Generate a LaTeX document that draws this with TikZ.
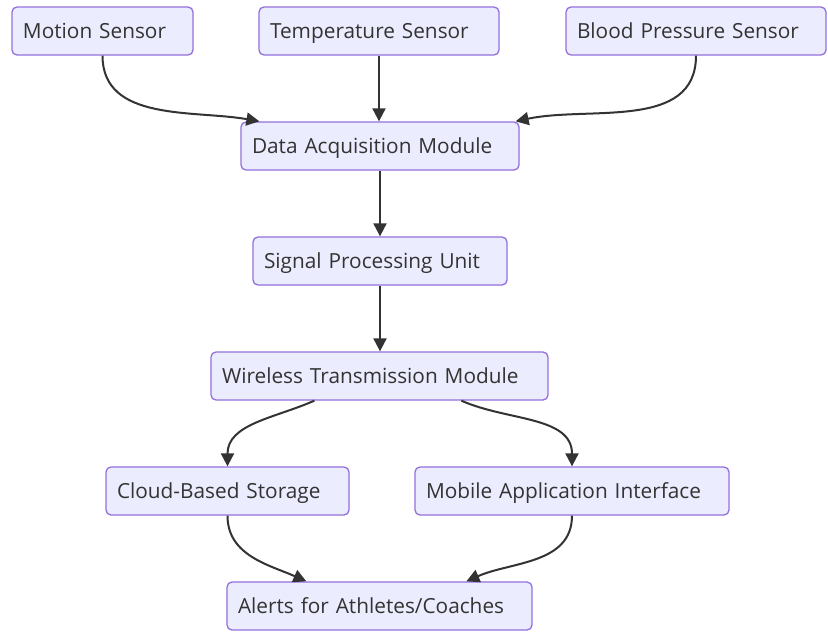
\documentclass[tikz,border=0pt]{standalone}
\usepackage{fontspec}
\setmainfont{Open Sans}
\usetikzlibrary{arrows.meta,calc}
\definecolor{boxfill}{HTML}{ECECFF}
\definecolor{boxline}{HTML}{9370DB}
\definecolor{ink}{HTML}{333333}
\tikzset{
  box/.style={draw=boxline, fill=boxfill, rounded corners=5pt, line width=1.3pt,
    minimum height=48pt, inner xsep=11pt, inner ysep=0pt,
    text height=15pt, text depth=0pt, align=left, text=ink,
    font=\fontsize{20.8}{24}\selectfont, text width=#1-22pt},
  link/.style={draw=ink, line width=2pt, -{Triangle[length=13pt,width=13pt]}}
}
\begin{document}
\begin{tikzpicture}[x=1pt,y=1pt]
  \fill[white] (0,0) rectangle (828,-632);
  \useasboundingbox (0,0) rectangle (828,-632);

  % sensors
  \node[box=181pt] (ms) at (102.5,-31) {Motion Sensor};
  \node[box=240pt] (ts) at (379,-31) {Temperature Sensor};
  \node[box=260pt] (bp) at (696,-31) {Blood Pressure Sensor};

  % processing chain
  \node[box=278pt] (daq) at (380,-146) {Data Acquisition Module};
  \node[box=254pt] (spu) at (380,-261) {Signal Processing Unit};
  \node[box=337pt] (wtm) at (379.5,-376) {Wireless Transmission Module};

  % outputs
  \node[box=243pt] (cloud) at (227.5,-491) {Cloud-Based Storage};
  \node[box=314pt] (mob) at (572,-491) {Mobile Application Interface};
  \node[box=305pt] (alert) at (379.5,-606) {Alerts for Athletes/Coaches};

  % connectors
  \draw[link] (ms.south) to[out=-90, in=170] ($(daq.north west)+(19,0)$);
  \draw[link] (ts.south) -- (ts.south |- daq.north);
  \draw[link] (bp.south) to[out=-90, in=12] ($(daq.north east)+(-4,0)$);
  \draw[link] (daq.south) -- (daq.south |- spu.north);
  \draw[link] (spu.south) -- (spu.south |- wtm.north);
  \draw[link] ($(wtm.south west)+(104,0)$) to[out=204, in=90] (cloud.north);
  \draw[link] ($(wtm.south west)+(251,0)$) to[out=-24, in=90] (mob.north);
  \draw[link] (cloud.south) to[out=-90, in=156] ($(alert.north west)+(80,0)$);
  \draw[link] (mob.south) to[out=-90, in=24] ($(alert.north west)+(240,0)$);
\end{tikzpicture}
\end{document}
